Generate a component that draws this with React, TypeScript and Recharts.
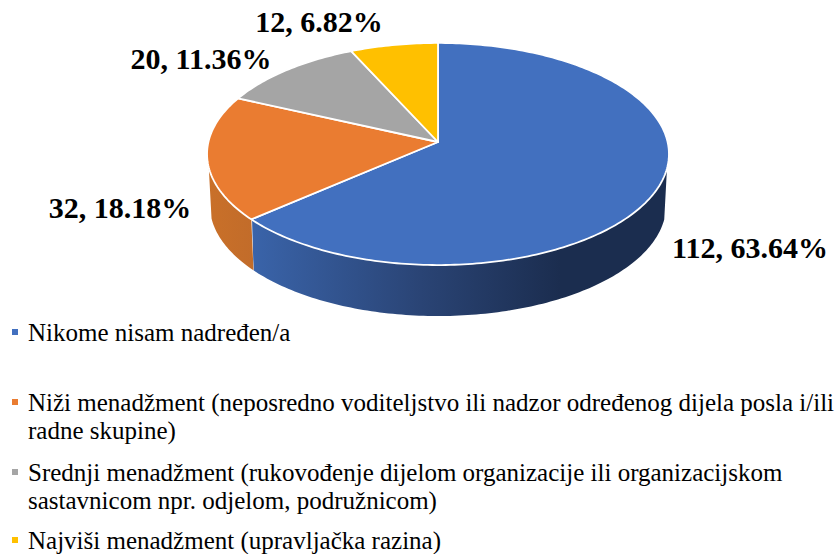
import { PieChart, Pie, Legend } from "recharts";

const categories = [
    "Nikome nisam nadređen/a",
    "Niži menadžment (neposredno voditeljstvo ili nadzor određenog dijela posla i/ili radne skupine)",
    "Srednji menadžment (rukovođenje dijelom organizacije ili organizacijskom sastavnicom npr. odjelom, podružnicom)",
    "Najviši menadžment (upravljačka razina)",
];
const counts = [112, 32, 20, 12];
const colors = ["#4270bf", "#ea7c31", "#a5a5a5", "#ffc000"];
const wallFills = ["url(#wallBlue)", "url(#wallOrange)", "#7c7c7c", "#bf9000"];

const labelSpots = [
    { x: 750, y: 258 },
    { x: 120, y: 218 },
    { x: 201, y: 69 },
    { x: 319, y: 32 },
];
const legendTops = [319, 389, 459, 527];

const tableRows = categories.map((name, i) => ({
    name,
    count: counts[i],
    fill: colors[i],
}));

// tilt of the pie: the near side comes out larger than the far side
const SQUASH = 0.478;
const NEAR = -0.108;
const DEPTH = 51;
const WALL_FROM = 0.22;

function rimPoint(cx: number, cy: number, r: number, deg: number) {
    const a = (deg * Math.PI) / 180;
    const u = Math.cos(a);
    const v = -Math.sin(a);
    const d = 1 + NEAR * v;
    return { x: cx + (r * u) / d, y: cy + (r * SQUASH * v) / d, v };
}

function TiltedSlice(props: any) {
    const { cx, cy, outerRadius, startAngle, endAngle, fill, index } = props;
    const steps = Math.max(8, Math.ceil(Math.abs(endAngle - startAngle)));
    const rim = [];
    for (let i = 0; i <= steps; i++) {
        rim.push(rimPoint(cx, cy, outerRadius, startAngle + ((endAngle - startAngle) * i) / steps));
    }
    const top =
        `M${cx},${cy} ` + rim.map((p) => `L${p.x.toFixed(2)},${p.y.toFixed(2)}`).join(" ") + " Z";

    const front = rim.filter((p) => p.v >= WALL_FROM);
    let wall = "";
    if (front.length > 1) {
        const lower = front
            .slice()
            .reverse()
            .map((p) => `L${(cx + (p.x - cx) * 0.988).toFixed(2)},${(p.y + DEPTH).toFixed(2)}`);
        wall =
            "M" +
            front.map((p) => `${p.x.toFixed(2)},${p.y.toFixed(2)}`).join(" L") +
            " " +
            lower.join(" ") +
            " Z";
    }

    return (
        <g>
            {wall && <path d={wall} fill={wallFills[index]} stroke="none" />}
            {wall && index === 0 && (
                <line
                    x1={front[front.length - 1].x}
                    y1={front[front.length - 1].y}
                    x2={front[front.length - 1].x + 1.5}
                    y2={front[front.length - 1].y + DEPTH}
                    stroke="#ffffff"
                    strokeWidth={1.5}
                />
            )}
            <path d={top} fill={fill} stroke="#ffffff" strokeWidth={1.8} strokeLinejoin="round" />
        </g>
    );
}

function sliceLabel(props: any) {
    const { index, value, percent } = props;
    const spot = labelSpots[index];
    return (
        <text
            x={spot.x}
            y={spot.y}
            textAnchor="middle"
            fontFamily="'Liberation Serif', serif"
            fontWeight="bold"
            fontSize={30}
            fill="#000000"
        >
            {`${value}, ${(percent * 100).toFixed(2)}%`}
        </text>
    );
}

function LegendList({ payload }: any) {
    return (
        <div>
            {(payload || []).map((item: any, i: number) => (
                <div
                    key={item.value}
                    style={{
                        position: "absolute",
                        left: 28,
                        top: legendTops[i],
                        width: 810,
                        fontFamily: "'Liberation Serif', serif",
                        fontSize: 25,
                        lineHeight: "28px",
                        color: "#000000",
                    }}
                >
                    <span
                        style={{
                            position: "absolute",
                            left: -16,
                            top: 10,
                            width: 6,
                            height: 6,
                            background: item.color,
                        }}
                    />
                    {item.value}
                </div>
            ))}
        </div>
    );
}

export default function App() {
    return (
        <div style={{ position: "absolute", left: 0, top: 0, width: 838, height: 554 }}>
            <PieChart width={838} height={554} margin={{ top: 0, right: 0, bottom: 0, left: 0 }}>
                <defs>
                    <linearGradient id="wallBlue" gradientUnits="userSpaceOnUse" x1="250" y1="0" x2="560" y2="0">
                        <stop offset="0" stopColor="#3a64aa" />
                        <stop offset="0.55" stopColor="#2a4475" />
                        <stop offset="1" stopColor="#1b2d4f" />
                    </linearGradient>
                    <linearGradient id="wallOrange" gradientUnits="userSpaceOnUse" x1="208" y1="0" x2="252" y2="0">
                        <stop offset="0" stopColor="#c97029" />
                        <stop offset="1" stopColor="#c26c2a" />
                    </linearGradient>
                </defs>
                <Pie
                    data={tableRows}
                    dataKey="count"
                    nameKey="name"
                    cx={438}
                    cy={142}
                    outerRadius={229.6}
                    startAngle={90}
                    endAngle={-270}
                    stroke="#ffffff"
                    shape={TiltedSlice}
                    label={sliceLabel}
                    labelLine={false}
                    isAnimationActive={false}
                />
                <Legend
                    itemSorter={null}
                    content={<LegendList />}
                    wrapperStyle={{ position: "absolute", left: 0, top: 0, width: 838, height: 0 }}
                />
            </PieChart>
        </div>
    );
}
